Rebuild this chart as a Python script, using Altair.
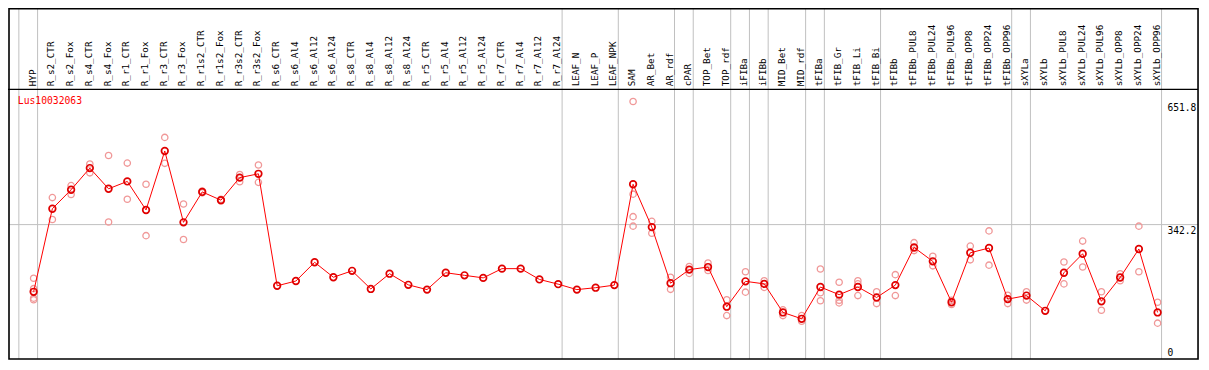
import altair as alt
import pandas as pd

gene = "Lus10032063"

categories = [
    "HYP", "R_s2_CTR", "R_s2_Fox", "R_s4_CTR", "R_s4_Fox", "R_r1_CTR", "R_r1_Fox",
    "R_r3_CTR", "R_r3_Fox", "R_r1s2_CTR", "R_r1s2_Fox", "R_r3s2_CTR", "R_r3s2_Fox",
    "R_s6_CTR", "R_s6_Al4", "R_s6_Al12", "R_s6_Al24", "R_s8_CTR", "R_s8_Al4",
    "R_s8_Al12", "R_s8_Al24", "R_r5_CTR", "R_r5_Al4", "R_r5_Al12", "R_r5_Al24",
    "R_r7_CTR", "R_r7_Al4", "R_r7_Al12", "R_r7_Al24", "LEAF_N", "LEAF_P", "LEAF_NPK",
    "SAM", "AR_Bet", "AR_rdf", "cPAR", "TOP_Bet", "TOP_rdf", "iFIBa", "iFIBb",
    "MID_Bet", "MID_rdf", "tFIBa", "tFIB_Gr", "tFIB_Li", "tFIB_Bi", "tFIBb",
    "tFIBb_PUL8", "tFIBb_PUL24", "tFIBb_PUL96", "tFIBb_OPP8", "tFIBb_OPP24",
    "tFIBb_OPP96", "sXYLa", "sXYLb", "sXYLb_PUL8", "sXYLb_PUL24", "sXYLb_PUL96",
    "sXYLb_OPP8", "sXYLb_OPP24", "sXYLb_OPP96",
]

means = [
    173.2, 382.1, 429.9, 484.3, 432.3, 450.8, 379.0, 527.3, 347.9, 424.4, 403.6,
    460.3, 469.9,
    188.3, 200.3, 247.4, 209.8, 225.9, 180.4, 218.7, 190.7, 178.7, 221.1, 214.6,
    208.2, 231.4, 231.4, 204.3, 192.4, 178.7, 183.5, 190.0,
    443.6, 335.9, 194.8, 229.0, 235.4, 135.7, 199.5, 193.1, 121.3, 105.3,
    185.2, 166.0, 185.2, 158.9, 190.0,
    284.7, 249.8, 146.9, 271.3, 283.3, 154.8,
    163.7, 125.4, 221.1, 268.9, 149.3, 209.1, 280.9, 121.3,
]

replicates = [
    [207.4, 181.1, 157.2, 153.1], [410.1, 355.1], [440.2, 418.0], [494.5, 472.3],
    [516.1, 348.6], [496.9, 406.0], [443.6, 314.4], [561.5, 496.2], [394.1, 304.8],
    [426.8, 422.1], [406.0, 402.0], [468.2, 449.8], [492.2, 448.4],
    [], [], [], [], [], [], [], [], [], [], [], [], [], [], [], [], [], [], [],
    [651.8, 418.7, 362.2, 338.3], [350.3, 320.6], [209.8, 179.4], [236.9, 219.4],
    [245.7, 226.6], [153.1, 113.4], [223.5, 172.3], [201.0, 184.2], [127.8, 113.4],
    [113.4, 99.1], [230.6, 170.8, 150.7], [197.1, 151.7, 145.2], [201.0, 193.1, 163.7],
    [173.2, 143.6], [216.3, 163.7], [296.7, 276.8], [262.5, 238.5], [151.7, 141.2],
    [288.1, 253.6], [326.3, 240.2], [164.4, 143.6], [173.2, 152.4], [],
    [248.1, 193.1], [300.7, 235.4], [173.2, 126.8], [218.7, 201.0], [338.3, 223.5],
    [146.9, 94.3],
]

tick_values = [651.8, 342.2]
tick_labels = ["651.8", "342.2"]
zero_value = [0]
zero_label = ["0"]
grid_value = [342.2]
group_breaks = [0, 1, 29, 32, 35, 36, 38, 39, 40, 42, 43, 46, 53, 54, 61]

W, H = 1192, 352
SX, SY = W / 1209, H / 370
FONT = "DejaVu Sans Mono"

xscale = alt.Scale(domain=[-26 / 19, 1183 / 19], nice=False, zero=False)
yscale = alt.Scale(domain=[1.675, 886.9], nice=False, zero=False)

df_cat = pd.DataFrame({"i": list(range(len(categories))), "label": categories, "mean": means})
rows = []
for i, reps in enumerate(replicates):
    for v in reps:
        rows.append({"i": i, "value": v})
df_rep = pd.DataFrame(rows)
df_break = pd.DataFrame({"b": [k - 15 / 19 for k in group_breaks]})
df_grid = pd.DataFrame({"v": grid_value})
df_ticks = pd.DataFrame({"v": tick_values, "t": tick_labels})
df_zero = pd.DataFrame({"v": zero_value, "t": zero_label})
df_one = pd.DataFrame({"g": [gene]})

X = lambda f: alt.X(f, type="quantitative", scale=xscale, axis=None)
Y = lambda f: alt.Y(f, type="quantitative", scale=yscale, axis=None)

vgrid = alt.Chart(df_break).mark_rule(color="#c0c0c0", strokeWidth=1).encode(
    x=X("b"), y=alt.value(0), y2=alt.value(369 * SY)
)
hgrid = alt.Chart(df_grid).mark_rule(color="#c0c0c0", strokeWidth=1).encode(
    y=Y("v"), x=alt.value(1 * SX), x2=alt.value(1207 * SX)
)
border = alt.Chart(df_one).mark_rect(fill=None, stroke="black", strokeWidth=1.6).encode(
    x=alt.value(1.0), x2=alt.value(1207 * SX), y=alt.value(0.8), y2=alt.value(369 * SY)
)
header = alt.Chart(df_one).mark_rule(color="black", strokeWidth=1.2).encode(
    x=alt.value(0), x2=alt.value(1207 * SX), y=alt.value(85.5 * SY)
)
labels = alt.Chart(df_cat).mark_text(
    angle=270, align="left", baseline="alphabetic", font=FONT, fontSize=9.3,
    color="black", dy=2
).encode(x=X("i"), y=alt.value(82.3 * SY), text="label:N")

reps = alt.Chart(df_rep).mark_point(
    shape="circle", filled=False, size=40, stroke="#f09898", strokeWidth=1.3, opacity=1
).encode(x=X("i"), y=Y("value"))
line = alt.Chart(df_cat).mark_line(color="#ff0000", strokeWidth=1).encode(
    x=X("i"), y=Y("mean")
)
pts = alt.Chart(df_cat).mark_point(
    shape="circle", filled=False, size=44, stroke="#e00000", strokeWidth=1.7, opacity=1
).encode(x=X("i"), y=Y("mean"))

title = alt.Chart(df_one).mark_text(
    align="left", baseline="alphabetic", font=FONT, fontSize=9.7, color="#ff0000"
).encode(x=alt.value(10 * SX), y=alt.value(100.7 * SY), text="g:N")

ticks = alt.Chart(df_ticks).mark_text(
    align="left", baseline="top", font=FONT, fontSize=9.6, color="black", dy=1.5
).encode(x=alt.value(1176 * SX), y=Y("v"), text="t:N")
zero = alt.Chart(df_zero).mark_text(
    align="left", baseline="alphabetic", font=FONT, fontSize=9.6, color="black", dy=-5
).encode(x=alt.value(1176 * SX), y=Y("v"), text="t:N")

chart = alt.layer(
    vgrid, hgrid, header, labels, reps, line, pts, title, ticks, zero, border
).properties(
    width=W, height=H, padding=0, autosize=alt.AutoSizeParams(type="none")
).configure_view(strokeWidth=0)

chart.save("out.html", embed_options={"renderer": "svg", "actions": False})
